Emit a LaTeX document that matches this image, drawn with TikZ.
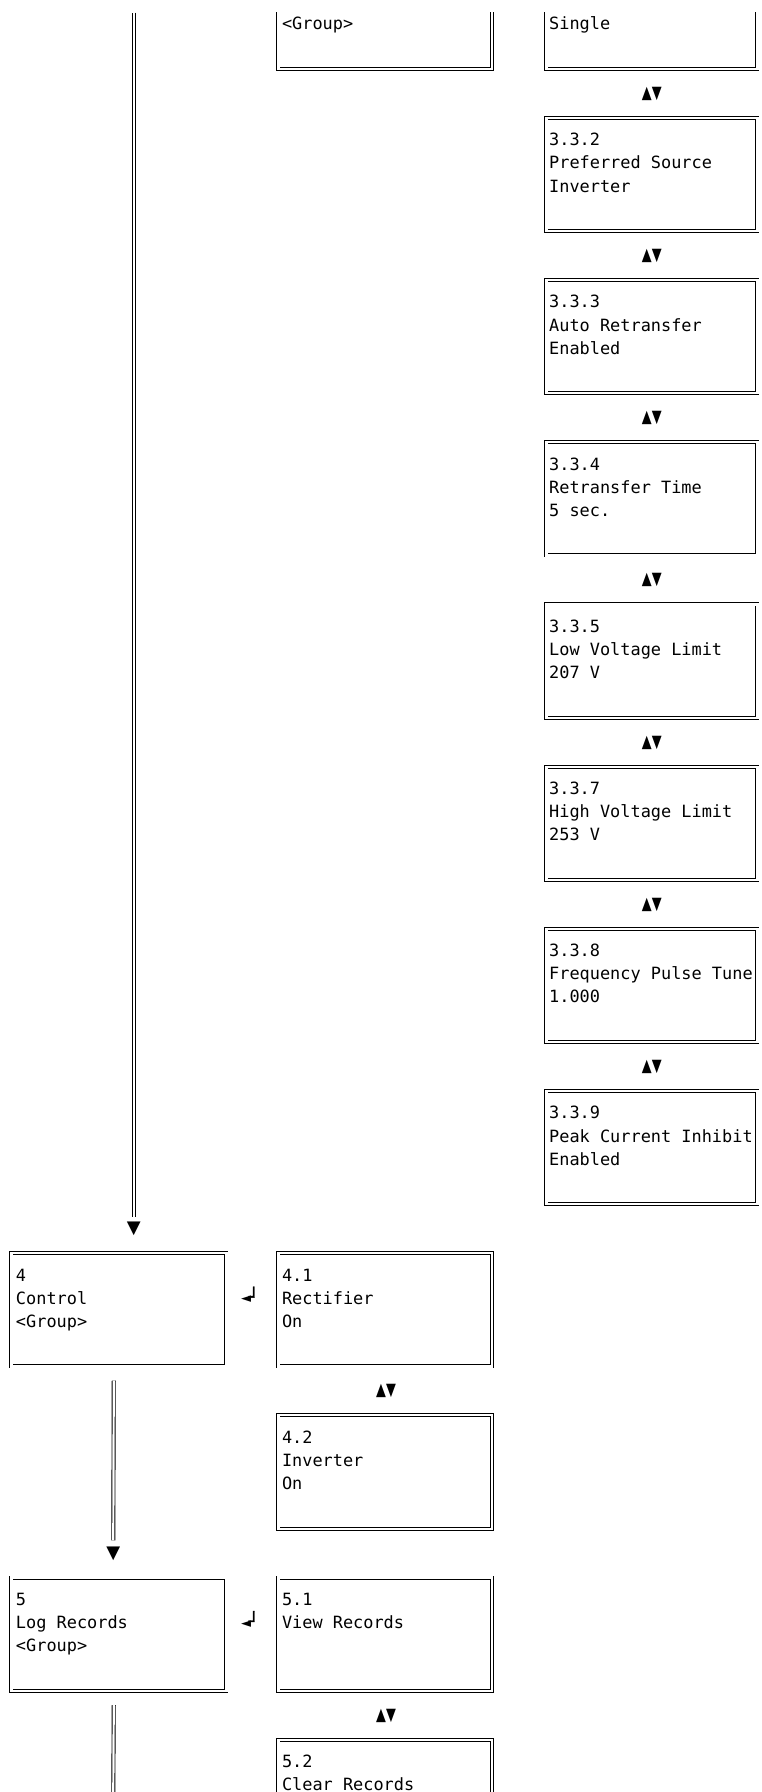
\documentclass[tikz,border=0pt]{standalone}
\usepackage{fontspec}
\setmonofont{DejaVu Sans Mono}
\newfontfamily\symfont{DejaVu Sans}
\newfontfamily\boldbox[FakeBold=2.5]{DejaVu Sans Mono}
\usetikzlibrary{calc}
\newcommand{\Y}[1]{(1.15+23.17*(#1))}
% name, x of box, width, top line, x of text, text
\newcommand{\MenuBox}[6]{%
  \node[menubox, minimum width=#3pt] (#1) at (#2,{\Y{#4}+0.4}) {};
  \node[menutext] (#1t) at (#5,{\Y{#4+1}-10.9}) {\strut #6};
}
\newcommand{\EnterMark}{{\symfont\fontsize{13}{13}\selectfont ◄}\kern-2.5pt{\boldbox\fontsize{17}{17}\selectfont ┘}}
\begin{document}
\begin{tikzpicture}[x=1pt,y=-1pt,
  dline/.style={draw=black, double=white, line width=0.9pt, double distance=2.2pt},
  menubox/.style={dline, rectangle, inner sep=0pt, anchor=north west, minimum height=113.25pt},
  menutext/.style={font=\ttfamily\fontsize{16.9}{23.17}\selectfont, align=left, inner sep=0pt, anchor=north west},
  updown/.style={font=\symfont\fontsize{13.5}{13.5}\selectfont, inner sep=0pt},
  downarrow/.style={font=\symfont\fontsize{18}{18}\selectfont, inner sep=0pt},
  enter/.style={inner sep=0pt, anchor=base west}
]
\useasboundingbox[fill=white] (0,0) rectangle (762,1792);
\begin{scope}
\clip (0,12.7) rectangle (762,1792);
% partial boxes at the top
\node[menubox, minimum width=213.5pt] (g3) at (278,{\Y{-2}+0.4}) {};
\node[menutext] (g3t) at (281.8,{\Y{1}-10.9}) {\strut <Group>};
\node[menubox, minimum width=211pt] (r331) at (546,{\Y{-2}+0.4}) {};
\node[menutext] (r331t) at (549,{\Y{1}-10.9}) {\strut Single};
% right column
\MenuBox{r332}{546}{211}{5}{549}{3.3.2\\Preferred Source\\Inverter}
\MenuBox{r333}{546}{211}{12}{549}{3.3.3\\Auto Retransfer\\Enabled}
\MenuBox{r334}{546}{211}{19}{549}{3.3.4\\Retransfer Time\\5 sec.}
\MenuBox{r335}{546}{211}{26}{549}{3.3.5\\Low Voltage Limit\\207 V}
\MenuBox{r337}{546}{211}{33}{549}{3.3.7\\High Voltage Limit\\253 V}
\MenuBox{r338}{546}{211}{40}{549}{3.3.8\\Frequency Pulse Tune\\1.000}
\MenuBox{r339}{546}{211}{47}{549}{3.3.9\\Peak Current Inhibit\\Enabled}
% left column
\MenuBox{b4}{11}{215}{54}{15.8}{4\\Control\\<Group>}
\MenuBox{b5}{11}{215}{68}{15.8}{5\\Log Records\\<Group>}
% middle column
\MenuBox{b41}{278}{213.5}{54}{281.8}{4.1\\Rectifier\\On}
\MenuBox{b42}{278}{213.5}{61}{281.8}{4.2\\Inverter\\On}
\MenuBox{b51}{278}{213.5}{68}{281.8}{5.1\\View Records}
\MenuBox{b52}{278}{213.5}{75}{281.8}{5.2\\Clear Records}
% up/down markers
\foreach \l/\n in {4/u1,11/u2,18/u3,25/u4,32/u5,39/u6,46/u7}
  \node[updown] (\n) at (651.8,{\Y{\l}}) {\scalebox{0.95}[1.3]{▲▼}};
\node[updown] (u8) at (386,{\Y{60}}) {\scalebox{0.95}[1.3]{▲▼}};
\node[updown] (u9) at (386,{\Y{74}}) {\scalebox{0.95}[1.3]{▲▼}};
% enter markers
\node[enter] (e4) at (241,{\Y{56}+4}) {\EnterMark};
\node[enter] (e5) at (241,{\Y{70}+4}) {\EnterMark};
% down arrows and connectors
\node[downarrow] (a4) at (133.8,{\Y{53}}) {▼};
\node[downarrow] (a5) at (113.3,{\Y{67}}) {▼};
\coordinate (topL) at (133.8,12.7);
\coordinate (botL) at (113.3,1792);
\draw[dline] (topL) -- ($(a4.north)+(0,-5.5)$);
\draw[dline] ($(b4.south)+(-5.2,13.8)$) -- ($(a5.north)+(0,-6)$);
\draw[dline] ($(b5.south)+(-5.2,13.8)$) -- (botL);
\end{scope}
\end{tikzpicture}
\end{document}
